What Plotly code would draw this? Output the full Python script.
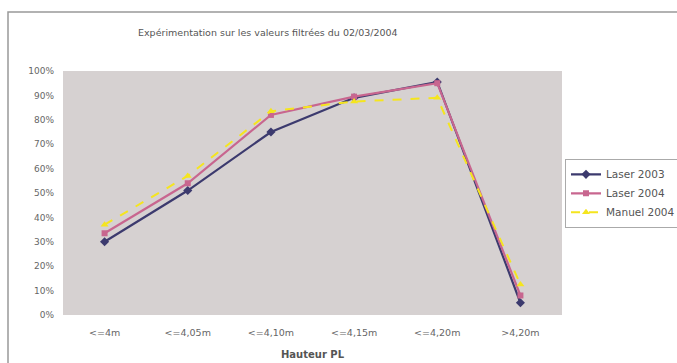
import plotly.graph_objects as go

categories = ["<=4m", "<=4,05m", "<=4,10m", "<=4,15m", "<=4,20m", ">4,20m"]
laser_2003 = [0.30, 0.51, 0.75, 0.89, 0.955, 0.05]
laser_2004 = [0.335, 0.54, 0.82, 0.895, 0.95, 0.08]
manuel_2004 = [0.37, 0.57, 0.835, 0.875, 0.89, 0.125]
y_ticks = [i / 10 for i in range(11)]
y_labels = [f"{i*10}%" for i in range(11)]

FONT = "DejaVu Sans"
fig = go.Figure()
fig.add_trace(go.Scatter(x=categories, y=laser_2003, name="Laser 2003", mode="lines+markers",
                         line=dict(color="#3c3a6e", width=2.2),
                         marker=dict(symbol="diamond", size=7, color="#3c3a6e")))
fig.add_trace(go.Scatter(x=categories, y=laser_2004, name="Laser 2004", mode="lines+markers",
                         line=dict(color="#c8668f", width=2.2),
                         marker=dict(symbol="square", size=6, color="#c8668f")))
fig.add_trace(go.Scatter(x=categories, y=manuel_2004, name="Manuel 2004", mode="lines+markers",
                         line=dict(color="#f5e51e", width=2, dash="dash"),
                         marker=dict(symbol="triangle-up", size=7, color="#f5e51e")))

fig.update_layout(
    width=677, height=363,
    margin=dict(l=63, r=115, t=71, b=48, autoexpand=False),
    paper_bgcolor="white",
    plot_bgcolor="#d6d1d1",
    font=dict(family=FONT, size=8, color="#555555"),
    showlegend=True,
    legend=dict(x=1.006, y=0.64, xanchor="left", yanchor="top",
                bgcolor="white", bordercolor="#aaaaaa", borderwidth=1,
                font=dict(family=FONT, size=10.5, color="#555555"), tracegroupgap=0,
                itemwidth=30),
    xaxis=dict(showgrid=False, zeroline=False, ticks="", showline=False,
               range=[-0.5, 5.5], ticklabelstandoff=10,
               tickfont=dict(family=FONT, size=9.5, color="#666666"),
               title=dict(text="<b>Hauteur PL</b>", font=dict(family=FONT, size=10, color="#555555"), standoff=14)),
    yaxis=dict(range=[0, 1], tickvals=y_ticks, ticktext=y_labels, showgrid=False,
               zeroline=False, ticks="", showline=False, ticklabelstandoff=8,
               tickfont=dict(family=FONT, size=9, color="#666666")),
    annotations=[dict(text="Expérimentation sur les valeurs filtrées du 02/03/2004",
                      xref="paper", yref="paper", x=(268 - 63) / 499, y=(315 - 33) / 244,
                      xanchor="center", yanchor="middle", showarrow=False,
                      font=dict(family=FONT, size=9.5, color="#555555"))],
    shapes=[dict(type="rect", xref="paper", yref="paper",
                 x0=(8 - 63) / 499, x1=(690 - 63) / 499,
                 y0=(315 - 380) / 244, y1=(315 - 12) / 244,
                 line=dict(color="#999999", width=1.5), fillcolor="rgba(0,0,0,0)", layer="below")],
)

fig.write_html("out.html")
